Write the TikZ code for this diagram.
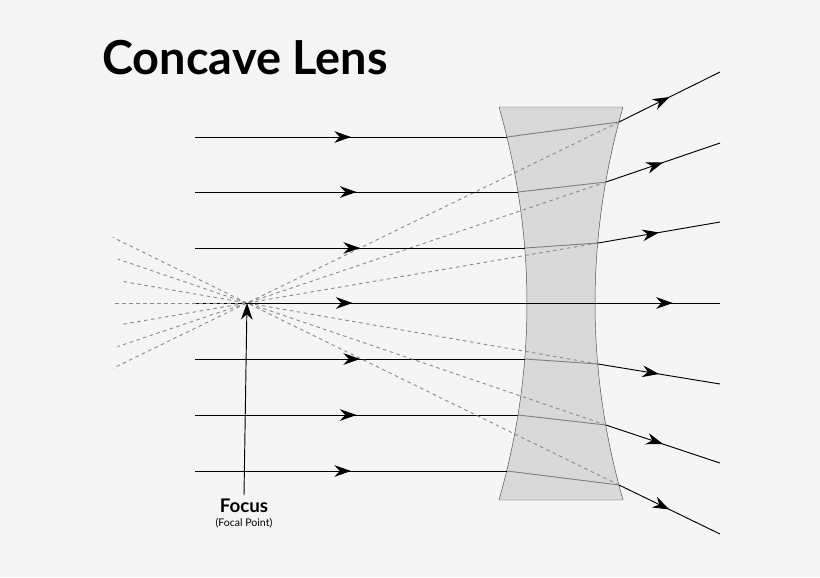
\documentclass[tikz,border=0pt]{standalone}
\usepackage{fontspec}
\setmainfont{Lato}
\usetikzlibrary{decorations.markings,arrows.meta,calc}
\begin{document}
\begin{tikzpicture}[x=0.03cm,y=-0.03cm,
ray/.style={black,thick},
dashray/.style={gray!90,dashed,thick},
inside/.style={gray,thick},
midarrow/.style={postaction={decorate},decoration={markings,
  mark=at position #1 with {\arrow{Stealth[length=5mm,width=3.5mm]}}}}
]
\useasboundingbox[fill=black!4] (0,0) rectangle (820,577);
\node (title) [font=\bfseries\fontsize{40}{46}\selectfont] at (245,58) {Concave Lens};

% lens
\draw[fill=black!15,draw=black!70] (499,107) -- (623,107)
  .. controls (585.7,237.7) and (585.7,369.3) .. (623,500) -- (499,500)
  .. controls (536.3,369.3) and (536.3,237.7) .. (499,107);

\coordinate (F) at (247,303);
% rays: y, entry x, exit x, exit y, end y
\foreach \y/\ex/\ox/\oy/\ey in {137/507/619/122/72, 192/518/606/182/143, 248/525/598/243/222,
  359/525/598/364/384, 415/518/606/425/463, 471/507/619/485/534}{
  \coordinate (in) at (195,\y);
  \coordinate (a) at (\ex,\y);
  \coordinate (b) at (\ox,\oy);
  \coordinate (e) at (720,\ey);
  \draw[ray,midarrow=0.5] (in) -- (a);
  \draw[inside] (a) -- (b);
  \draw[ray,midarrow=0.5] (b) -- (e);
  \draw[dashray] (b) -- (F) -- ($(F)!-0.36!(b)$);
}
% axis
\coordinate (in0) at (195,303);
\coordinate (e0) at (720,303);
\draw[ray,midarrow=0.3] (in0) -- (e0);
\draw[ray,midarrow=0.91] (in0) -- (e0);
\draw[dashray] (115,303) -- (F);

% focus label
\node (focus) [font=\bfseries\fontsize{16}{18}\selectfont] at (244,506) {Focus};
\node (fp) [font=\small] at (244,523) {(Focal Point)};
\draw[black,thick,-{Stealth[length=5mm,width=3.5mm]}] (focus.north) -- (F);
\end{tikzpicture}
\end{document}
